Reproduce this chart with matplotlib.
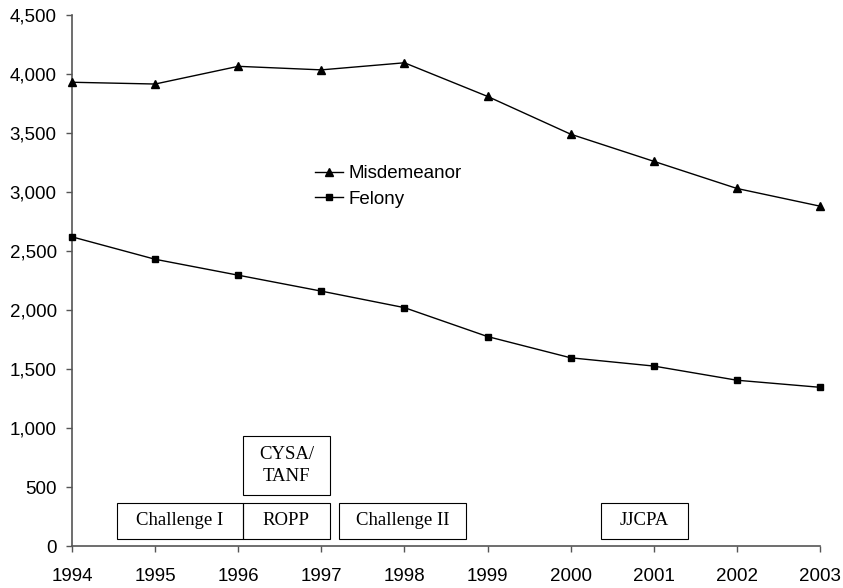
import matplotlib
matplotlib.use("Agg")
import matplotlib.pyplot as plt
from matplotlib.patches import Rectangle
from matplotlib.ticker import FuncFormatter

# ── Data ───────────────────────────────────────────────────────────────
years = [1994, 1995, 1996, 1997, 1998, 1999, 2000, 2001, 2002, 2003]
misdemeanor = [3930, 3915, 4065, 4035, 4095, 3810, 3490, 3260, 3030, 2880]
felony = [2620, 2430, 2295, 2160, 2020, 1775, 1595, 1525, 1405, 1345]

programs = ["Challenge I", "ROPP", "CYSA/\nTANF", "Challenge II", "JJCPA"]
prog_start = [1994.54, 1996.06, 1996.06, 1997.21, 2000.37]
prog_end = [1996.06, 1997.10, 1997.10, 1998.74, 2001.41]
prog_low = [60, 60, 430, 60, 60]
prog_high = [365, 365, 930, 365, 365]

# ── Plot ───────────────────────────────────────────────────────────────
fig = plt.figure(figsize=(8.43, 5.88), dpi=100)
ax = fig.add_axes([0.0854, 0.0714, 0.8873, 0.9031])

sans = "Liberation Sans"
serif = "Liberation Serif"

ax.plot(years, misdemeanor, '-', color='black', lw=1.0, marker='^', ms=6,
        label='Misdemeanor', clip_on=False, zorder=5)
ax.plot(years, felony, '-', color='black', lw=1.0, marker='s', ms=5,
        label='Felony', clip_on=False, zorder=5)

for name, x0, x1, y0, y1 in zip(programs, prog_start, prog_end, prog_low, prog_high):
    ax.add_patch(Rectangle((x0, y0), x1 - x0, y1 - y0, fill=False,
                           edgecolor='black', lw=0.8))
    ax.text((x0 + x1) / 2, (y0 + y1) / 2, name, ha='center', va='center',
            family=serif, fontsize=13.5, linespacing=1.4)

ax.set_xlim(1994, 2003)
ax.set_ylim(0, 4500)
ax.set_xticks(years)
ax.set_yticks(range(0, 4501, 500))
ax.yaxis.set_major_formatter(FuncFormatter(lambda v, p: f"{int(v):,}"))

for s in ['top', 'right']:
    ax.spines[s].set_visible(False)
for s in ['left', 'bottom']:
    ax.spines[s].set_color('#555555')
    ax.spines[s].set_linewidth(1.2)
ax.tick_params(direction='out', length=4, width=1.0, color='#555555',
               labelsize=13.5)
ax.tick_params(axis='x', pad=12)
ax.tick_params(axis='y', pad=7)
for lab in ax.get_xticklabels() + ax.get_yticklabels():
    lab.set_family(sans)

leg = ax.legend(loc='upper left', bbox_to_anchor=(0.312, 0.735), frameon=False,
                prop={'family': sans, 'size': 13.5}, handlelength=1.5,
                handletextpad=0.3, labelspacing=0.45, borderpad=0)

fig.savefig("out.png", dpi=100)
